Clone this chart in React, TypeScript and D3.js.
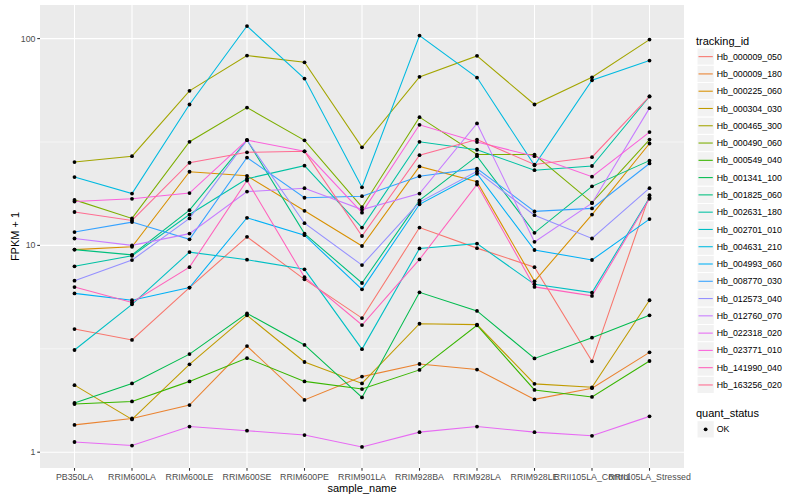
import * as d3 from 'd3';

const sampleNames = [
  'PB350LA', 'RRIM600LA', 'RRIM600LE', 'RRIM600SE', 'RRIM600PE', 'RRIM901LA',
  'RRIM928BA', 'RRIM928LA', 'RRIM928LE', 'RRII105LA_Control', 'RRII105LA_Stressed',
];

const trackingIds = [
  'Hb_000009_050', 'Hb_000009_180', 'Hb_000225_060', 'Hb_000304_030', 'Hb_000465_300',
  'Hb_000490_060', 'Hb_000549_040', 'Hb_001341_100', 'Hb_001825_060', 'Hb_002631_180',
  'Hb_002701_010', 'Hb_004631_210', 'Hb_004993_060', 'Hb_008770_030', 'Hb_012573_040',
  'Hb_012760_070', 'Hb_022318_020', 'Hb_023771_010', 'Hb_141990_040', 'Hb_163256_020',
];

// ggplot hue palette, 20 levels
const lineColors = [
  '#F8766D', '#EA8331', '#D89000', '#C09B00', '#A3A500', '#7CAE00', '#39B600', '#00BB4E',
  '#00BF7D', '#00C1A3', '#00BFC4', '#00BAE0', '#00B0F6', '#35A2FF', '#9590FF', '#C77CFF',
  '#E76BF3', '#FA62DB', '#FF62BC', '#FF6C91',
];

// FPKM + 1 per sample, one array per tracking id
const hb000009_050 = [3.94, 3.49, 6.25, 11.0, 6.85, 4.45, 12.2, 9.7, 7.85, 2.75, 17.5];
const hb000009_180 = [1.355, 1.455, 1.69, 3.26, 1.79, 2.32, 2.67, 2.51, 1.8, 2.04, 3.04];
const hb000225_060 = [9.54, 9.85, 22.7, 21.7, 14.7, 9.93, 24.1, 20.3, 6.7, 14.1, 31.1];
const hb000304_030 = [2.11, 1.44, 2.66, 4.59, 2.73, 2.15, 4.18, 4.14, 2.14, 2.06, 5.43];
const hb000465_300 = [25.3, 27.0, 55.9, 82.8, 76.8, 29.8, 65.3, 82.5, 48.0, 65.0, 98.9];
const hb000490_060 = [16.6, 13.5, 31.7, 46.4, 32.2, 15.3, 41.7, 27.5, 27.5, 16.1, 32.5];
const hb000549_040 = [1.71, 1.76, 2.2, 2.85, 2.2, 2.02, 2.5, 4.11, 2.0, 1.85, 2.76];
const hb001341_100 = [1.73, 2.15, 2.98, 4.69, 3.3, 1.84, 5.93, 4.82, 2.84, 3.58, 4.59];
const hb001825_060 = [9.54, 9.0, 14.8, 32.3, 11.4, 6.58, 16.5, 27.0, 11.5, 19.3, 25.7];
const hb002631_180 = [7.92, 8.9, 14.1, 21.0, 24.3, 12.2, 31.7, 29.0, 23.1, 24.2, 52.5];
const hb002701_010 = [3.12, 5.19, 9.28, 8.53, 7.66, 3.15, 9.67, 10.2, 6.48, 5.91, 17.0];
const hb004631_210 = [21.4, 17.8, 48.0, 115, 64.1, 19.1, 103.4, 64.8, 24.4, 62.9, 78.3];
const hb004993_060 = [5.86, 5.43, 6.25, 13.6, 11.2, 6.13, 15.8, 22.2, 9.5, 8.5, 13.4];
const hb008770_030 = [11.6, 12.96, 10.7, 26.6, 17.0, 17.3, 21.6, 23.5, 14.6, 15.1, 24.9];
const hb012573_040 = [6.75, 8.49, 13.5, 32.3, 12.8, 8.03, 16.2, 22.8, 14.0, 10.8, 18.9];
const hb012760_070 = [10.8, 10.0, 11.4, 18.2, 18.9, 14.9, 17.8, 38.9, 10.4, 16.0, 46.1];
const hb022318_020 = [1.12, 1.077, 1.33, 1.27, 1.21, 1.06, 1.25, 1.33, 1.25, 1.2, 1.49];
const hb023771_010 = [16.3, 16.8, 17.9, 32.3, 28.5, 14.4, 38.3, 31.6, 27.0, 21.5, 35.3];
const hb141990_040 = [6.29, 5.3, 7.85, 20.6, 7.02, 4.12, 8.55, 19.7, 6.3, 5.7, 16.8];
const hb163256_020 = [14.5, 13.2, 25.1, 28.2, 28.5, 11.1, 27.3, 32.5, 24.6, 26.7, 52.5];

const seriesValues = [
  hb000009_050, hb000009_180, hb000225_060, hb000304_030, hb000465_300,
  hb000490_060, hb000549_040, hb001341_100, hb001825_060, hb002631_180,
  hb002701_010, hb004631_210, hb004993_060, hb008770_030, hb012573_040,
  hb012760_070, hb022318_020, hb023771_010, hb141990_040, hb163256_020,
];

const yBreaks = [1, 10, 100];
const yMinorBreaks = [Math.sqrt(10), Math.sqrt(1000)];
const quantStatus = ['OK'];

const font = '"Liberation Sans", Arial, Helvetica, sans-serif';

export default function App() {
  const width = 800;
  const height = 500;
  const panel = { left: 40, right: 684, top: 5, bottom: 468 };

  const x = d3.scalePoint<string>()
    .domain(sampleNames)
    .range([panel.left, panel.right])
    .padding(0.6);

  // log scale with ggplot's 5% expansion on the transformed range
  const all = seriesValues.flat();
  const lo = Math.log10(d3.min(all) as number);
  const hi = Math.log10(d3.max(all) as number);
  const pad = (hi - lo) * 0.05;
  const y = d3.scaleLog()
    .domain([10 ** (lo - pad), 10 ** (hi + pad)])
    .range([panel.bottom, panel.top]);

  const line = d3.line<number>()
    .x((_, i) => x(sampleNames[i]) as number)
    .y((d) => y(d));

  const keySize = 17.28;
  const legendX = 697;
  const firstKeyY = 48;

  return (
    <svg
      width={width}
      height={height}
      style={{ position: 'absolute', left: 0, top: 0, background: '#fff' }}
      fontFamily={font}
    >
      <rect x={panel.left} y={panel.top} width={panel.right - panel.left}
        height={panel.bottom - panel.top} fill="#EBEBEB" />

      {/* grid */}
      {yMinorBreaks.map((b) => (
        <line key={'ym' + b} x1={panel.left} x2={panel.right} y1={y(b)} y2={y(b)}
          stroke="#fff" strokeWidth={0.53} />
      ))}
      {yBreaks.map((b) => (
        <line key={'y' + b} x1={panel.left} x2={panel.right} y1={y(b)} y2={y(b)}
          stroke="#fff" strokeWidth={1.07} />
      ))}
      {sampleNames.map((s) => (
        <line key={'x' + s} x1={x(s)} x2={x(s)} y1={panel.top} y2={panel.bottom}
          stroke="#fff" strokeWidth={1.07} />
      ))}

      {/* lines */}
      {seriesValues.map((vals, i) => (
        <path key={trackingIds[i]} d={line(vals) as string} fill="none"
          stroke={lineColors[i]} strokeWidth={1.07} />
      ))}

      {/* points */}
      {seriesValues.map((vals, i) =>
        vals.map((v, j) => (
          <circle key={trackingIds[i] + j} cx={x(sampleNames[j])} cy={y(v)} r={1.9} fill="#000" />
        ))
      )}

      {/* y axis */}
      {yBreaks.map((b) => (
        <g key={'yt' + b}>
          <line x1={panel.left - 2.75} x2={panel.left} y1={y(b)} y2={y(b)} stroke="#333" strokeWidth={1.07} />
          <text x={panel.left - 4.5} y={y(b)} dy="0.35em" textAnchor="end" fontSize={8.8} fill="#4D4D4D">
            {b}
          </text>
        </g>
      ))}
      <text transform={`translate(15,${(panel.top + panel.bottom) / 2}) rotate(-90)`}
        textAnchor="middle" dy="0.35em" fontSize={11} fill="#000">FPKM + 1</text>

      {/* x axis */}
      {sampleNames.map((s) => (
        <g key={'xt' + s}>
          <line x1={x(s)} x2={x(s)} y1={panel.bottom} y2={panel.bottom + 2.75} stroke="#333" strokeWidth={1.07} />
          <text x={x(s)} y={panel.bottom + 11.5} textAnchor="middle" fontSize={8.8} fill="#4D4D4D">
            {s}
          </text>
        </g>
      ))}
      <text x={(panel.left + panel.right) / 2} y={492} textAnchor="middle" fontSize={11} fill="#000">
        sample_name
      </text>

      {/* legend: tracking_id */}
      <text x={legendX - 1} y={44.5} fontSize={11} fill="#000">tracking_id</text>
      {trackingIds.map((id, i) => {
        const ky = firstKeyY + i * keySize;
        return (
          <g key={'lg' + id}>
            <rect x={legendX} y={ky} width={keySize} height={keySize} fill="#F2F2F2"
              stroke="#fff" strokeWidth={1} />
            <line x1={legendX + 1.5} x2={legendX + keySize - 1.5} y1={ky + keySize / 2} y2={ky + keySize / 2}
              stroke={lineColors[i]} strokeWidth={1.07} />
            <text x={legendX + keySize + 2.5} y={ky + keySize / 2} dy="0.35em" fontSize={8.8} fill="#000">
              {id}
            </text>
          </g>
        );
      })}

      {/* legend: quant_status */}
      <text x={legendX - 1} y={416.5} fontSize={11} fill="#000">quant_status</text>
      {quantStatus.map((q, i) => {
        const ky = 420.7 + i * keySize;
        return (
          <g key={'lq' + q}>
            <rect x={legendX} y={ky} width={keySize} height={keySize} fill="#F2F2F2"
              stroke="#fff" strokeWidth={1} />
            <circle cx={legendX + keySize / 2} cy={ky + keySize / 2} r={1.9} fill="#000" />
            <text x={legendX + keySize + 2.5} y={ky + keySize / 2} dy="0.35em" fontSize={8.8} fill="#000">
              {q}
            </text>
          </g>
        );
      })}
    </svg>
  );
}
